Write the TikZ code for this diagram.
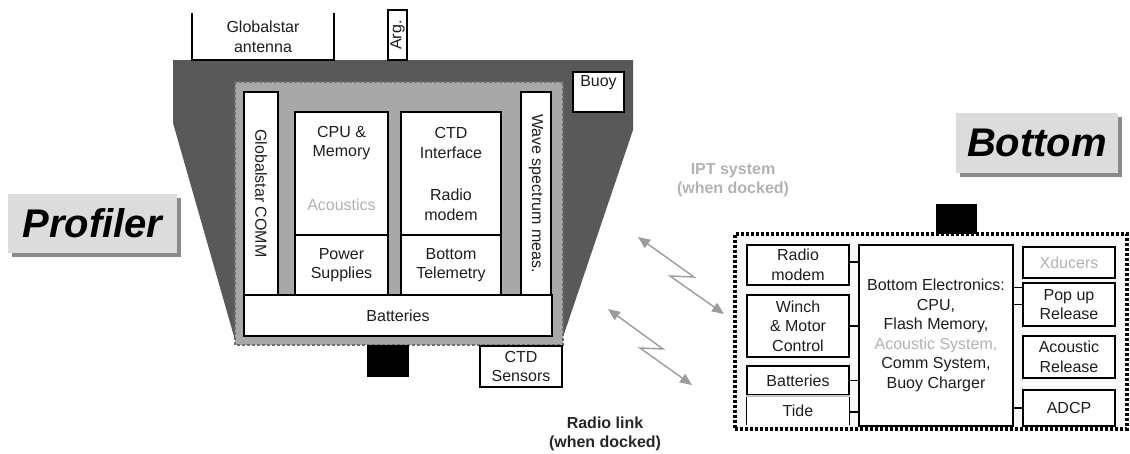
\documentclass[tikz,border=0pt]{standalone}
\usepackage{fontspec}
\setmainfont{Liberation Sans}
\usetikzlibrary{arrows.meta,calc}

\definecolor{bodygray}{HTML}{595959}
\definecolor{framegray}{HTML}{A8A8A8}
\definecolor{framedash}{HTML}{6E6E6E}
\definecolor{lighttext}{HTML}{B2B2B2}
\definecolor{tagfill}{HTML}{DCDCDC}
\definecolor{tagshadow}{HTML}{8A8A8A}
\definecolor{linkgray}{HTML}{9C9C9C}
\definecolor{inktext}{HTML}{1E1E1E}

\newcommand\boxfont{\fontsize{16}{19.5}\selectfont}
\newcommand\tagfont{\fontsize{40}{44}\selectfont\bfseries\itshape}

\tikzset{
  box/.style={draw=black, line width=1.3pt, fill=white, inner sep=0pt,
    align=center, font=\boxfont, text=inktext},
  txt/.style={inner sep=0pt, align=center, font=\boxfont, text=inktext},
  faint/.style={txt, text=lighttext},
  tag/.style={fill=tagfill, inner sep=0pt, font=\tagfont, text=black},
  tagshade/.style={fill=tagshadow},
  link/.style={draw=linkgray, line width=1.4pt,
    {Triangle[length=12pt,width=10pt]}-{Triangle[length=12pt,width=10pt]}},
  wire/.style={draw=black, line width=1.3pt},
  blackblock/.style={fill=black, inner sep=0pt},
}

\begin{document}
\begin{tikzpicture}[x=1pt,y=-1pt]
\useasboundingbox (0,0) rectangle (1130,453);

% ---------------- Profiler ----------------
% buoy body
\fill[bodygray] (173,60) -- (633,60) -- (633,130) -- (562,340)
  -- (235,340) -- (173,123) -- cycle;

% antennas on top of the buoy
\fill[white] (192,15) rectangle (334,60);
\draw[line width=1.3pt] (192,13) -- (192,60) -- (334,60) -- (334,13);
\node[txt] (gant) at (263,37) {Globalstar\\antenna};
\node[box, minimum width=50pt, minimum height=19pt, rotate=90] (arg)
  at (397.5,35) {Arg.};

\node[box, minimum width=51pt, minimum height=40pt] (buoy) at (598.5,92) {};
\node[txt] (buoylbl) at (598.5,83) {Buoy};

% electronics housing
\draw[draw=framedash, fill=framegray, line width=1.8pt,
  dash pattern=on 3pt off 2pt] (235,82) rectangle (563,345);

\node[box, minimum width=203pt, minimum height=34pt, rotate=-90] (gcomm)
  at (261,193.5) {Globalstar COMM};
\node[box, minimum width=203pt, minimum height=30pt, rotate=-90] (wave)
  at (536,193.5) {Wave spectrum meas.};

\node[box, minimum width=93pt, minimum height=123pt] (cpu) at (341.5,173.5) {};
\node[txt] (cpulbl) at (341.5,143) {CPU \&\\Memory};
\node[faint] (acou) at (341.5,205) {Acoustics};
\node[box, minimum width=93pt, minimum height=60pt] (psup) at (341.5,265)
  {Power\\Supplies};

\node[box, minimum width=100pt, minimum height=123pt] (ctd) at (451,173.5) {};
\node[txt] (ctdlbl) at (451,143) {CTD\\Interface};
\node[txt] (pmodem) at (451,205) {Radio\\modem};
\node[box, minimum width=100pt, minimum height=60pt] (btel) at (451,265)
  {Bottom\\Telemetry};

\node[box, minimum width=308pt, minimum height=41pt] (pbatt) at (398,315.5)
  {Batteries};

\node[blackblock, minimum width=42pt, minimum height=32pt] (pblock) at (388,361) {};
\node[box, minimum width=82pt, minimum height=41pt] (ctds) at (521,366.5)
  {CTD\\Sensors};

% name tag
\fill[tagshade] (12,198) rectangle (181,257);
\node[tag, minimum width=169pt, minimum height=59pt] (proftag) at (92.5,223.5)
  {Profiler};

% ---------------- Bottom ----------------
\fill[tagshade] (960,117) rectangle (1122,177);
\node[tag, minimum width=162pt, minimum height=60pt] (bottag) at (1037,143)
  {Bottom};

\node[blackblock, minimum width=41pt, minimum height=30pt] (bblock) at (956.5,219) {};
\node[draw=black, fill=gray!5, line width=3.4pt, dash pattern=on 2.6pt off 2.4pt,
  minimum width=392pt, minimum height=195pt, inner sep=0pt] (bframe)
  at (931,331.5) {};

\node[box, minimum width=102pt, minimum height=40pt] (rmodem) at (798,265)
  {Radio\\modem};
\node[box, minimum width=102pt, minimum height=62pt] (winch) at (798,326)
  {Winch\\\& Motor\\Control};
\node[box, minimum width=102pt, minimum height=29pt] (bbatt) at (798,380.5)
  {Batteries};
\node[box, draw=none, minimum width=102pt, minimum height=27pt] (tide)
  at (798,410.5) {Tide};
\draw[line width=1.3pt] (tide.north west) -- (tide.south west)
  (tide.north east) -- (tide.south east);
\draw[gray!45, line width=1.2pt] (bbatt.south west) -- (bbatt.south east)
  (tide.north west) -- (tide.north east);

\node[box, minimum width=154pt, minimum height=181pt] (belec) at (936,335.5)
  {Bottom Electronics:\\CPU,\\Flash Memory,\\
   \textcolor{lighttext}{Acoustic System,}\\Comm System,\\Buoy Charger};

\node[box, minimum width=92pt, minimum height=31pt, text=lighttext] (xduc)
  at (1069,262.5) {Xducers};
\node[box, minimum width=92pt, minimum height=43pt] (popup) at (1069,304.5)
  {Pop up\\Release};
\node[box, minimum width=92pt, minimum height=42pt] (arel) at (1069,357)
  {Acoustic\\Release};
\node[box, minimum width=92pt, minimum height=36pt] (adcp) at (1069,408)
  {ADCP};

% wiring to the bottom electronics
\draw[wire] ([yshift=3pt]rmodem.east) -- ([yshift=3pt]rmodem.east -| belec.west);
\draw[wire] (winch.east) -- (winch.east -| belec.west);
\draw[wire] (bbatt.east) -- (bbatt.east -| belec.west);
\draw[wire] ([yshift=-1.5pt]tide.east) -- ([yshift=-1.5pt]tide.east -| belec.west);
\draw[wire] ([yshift=-5pt]popup.north west) -- ([yshift=-5pt]popup.north west -| belec.east);
\draw[wire] (popup.west) -- (popup.west -| belec.east);
\draw[wire] (adcp.west) -- (adcp.west -| belec.east);

% ---------------- links ----------------
\node[txt, font=\boxfont\bfseries, text=lighttext] (ipt) at (733,180)
  {IPT system\\(when docked)};
\node[txt, font=\boxfont\bfseries, text=black!85] (rlink) at (605,434)
  {Radio link\\(when docked)};

\coordinate (l1a) at (638,237);
\coordinate (l1b) at (694,277);
\coordinate (l1c) at (670,276);
\coordinate (l1d) at (724,314);
\draw[link] (l1a) -- (l1b) -- (l1c) -- (l1d);

\coordinate (l2a) at (608,309);
\coordinate (l2b) at (663,349);
\coordinate (l2c) at (640,348);
\coordinate (l2d) at (692,385);
\draw[link] (l2a) -- (l2b) -- (l2c) -- (l2d);
\end{tikzpicture}
\end{document}
